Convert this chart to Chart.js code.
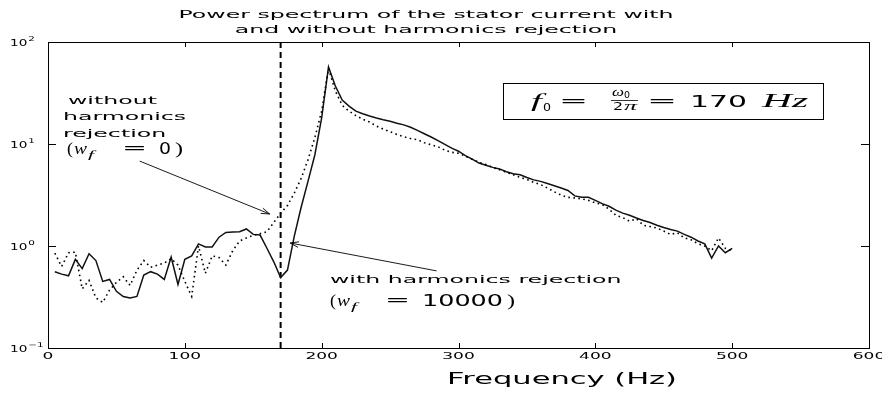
<!DOCTYPE html>
<html>
<head>
<meta charset="utf-8">
<script src="https://cdn.jsdelivr.net/npm/chart.js@4.4.1/dist/chart.umd.min.js"></script>
<style>
  html, body { margin: 0; padding: 0; background: #fff; }
</style>
</head>
<body>
<canvas id="spectrum" width="882" height="394"></canvas>
<script>
// stator current power spectrum, with and without harmonics rejection

const freq = [
  5, 10, 15, 20, 25, 30, 35, 40, 45, 50, 55, 60, 65, 70, 75, 80, 85, 90, 95, 100,
  105, 110, 115, 120, 125, 130, 135, 140, 145, 150, 155, 160, 165, 170, 175, 180, 185, 190, 195, 200,
  205, 210, 215, 220, 225, 230, 235, 240, 245, 250, 255, 260, 265, 270, 275, 280, 285, 290, 295, 300,
  305, 310, 315, 320, 325, 330, 335, 340, 345, 350, 355, 360, 365, 370, 375, 380, 385, 390, 395, 400,
  405, 410, 415, 420, 425, 430, 435, 440, 445, 450, 455, 460, 465, 470, 475, 480, 485, 490, 495, 500
];

// w_f = 10000
const withRejection = [
  0.56, 0.53, 0.51, 0.74, 0.60, 0.84, 0.72, 0.45, 0.47, 0.36, 0.32, 0.31, 0.32, 0.52, 0.56, 0.53, 0.47, 0.78, 0.42, 0.74,
  0.80, 1.05, 0.98, 0.98, 1.22, 1.36, 1.37, 1.38, 1.47, 1.30, 1.28, 0.95, 0.70, 0.49, 0.58, 1.25, 2.4, 4.3, 7.8, 18,
  57, 37, 27, 23.5, 21, 19.8, 18.8, 18, 17.3, 16.7, 16.0, 15.4, 14.6, 13.6, 12.6, 11.7, 10.8, 9.9, 9.1, 8.5,
  7.7, 7.1, 6.5, 6.2, 5.9, 5.7, 5.35, 5.1, 5.0, 4.7, 4.45, 4.3, 4.1, 3.9, 3.7, 3.5, 3.1, 3.0, 3.0, 2.8,
  2.6, 2.45, 2.25, 2.1, 2.0, 1.88, 1.78, 1.7, 1.6, 1.52, 1.45, 1.4, 1.3, 1.22, 1.12, 1.05, 0.76, 1.0, 0.86, 0.95
];

// w_f = 0
const withoutRejection = [
  0.85, 0.63, 0.86, 0.87, 0.38, 0.46, 0.31, 0.28, 0.37, 0.44, 0.50, 0.41, 0.58, 0.72, 0.62, 0.65, 0.68, 0.75, 0.65, 0.45,
  0.32, 1.0, 0.54, 0.80, 0.77, 0.65, 0.90, 1.12, 1.20, 1.27, 1.32, 1.38, 1.7, 2.1, 2.5, 3.3, 4.6, 7.0, 11.5, 21,
  55, 33, 24, 21, 19, 17.5, 16.4, 15, 14, 13.2, 12.4, 11.8, 11.3, 11, 10.3, 9.8, 9.4, 8.7, 8.3, 8.1,
  7.6, 7.1, 6.6, 6.3, 5.9, 5.6, 5.3, 5.0, 4.7, 4.5, 4.2, 4.0, 3.7, 3.4, 3.15, 3.0, 2.95, 2.9, 2.8, 2.65,
  2.55, 2.3, 2.0, 1.9, 1.75, 1.85, 1.6, 1.55, 1.5, 1.4, 1.3, 1.35, 1.2, 1.15, 1.05, 1.0, 0.9, 1.2, 0.95, 0.9
];

const f0 = 170;                      // omega0 / 2pi, Hz
const xTicks = [0, 100, 200, 300, 400, 500, 600];
const yTicks = [0.1, 1, 10, 100];
const yTickExp = ['\u22121', '0', '1', '2'];

const SANS = '"DejaVu Sans", sans-serif';
const SERIF = '"Liberation Serif", "DejaVu Serif", serif';
const WIDE = 2.15;                   // horizontal stretch of the lettering

// draws text stretched horizontally by sx; returns drawn width
function wideText(ctx, text, x, y, font, sx, align) {
  ctx.save();
  ctx.font = font;
  const w = ctx.measureText(text).width * sx;
  let x0 = x;
  if (align === 'center') x0 = x - w / 2;
  else if (align === 'right') x0 = x - w;
  ctx.translate(x0, y);
  ctx.scale(sx, 1);
  ctx.textAlign = 'left';
  ctx.textBaseline = 'alphabetic';
  ctx.fillStyle = '#000';
  ctx.fillText(text, 0, 0);
  ctx.restore();
  return w;
}

// text fitted into [x0, x1]
function boxText(ctx, text, x0, x1, y, font) {
  ctx.save();
  ctx.font = font;
  const sx = (x1 - x0) / ctx.measureText(text).width;
  ctx.restore();
  wideText(ctx, text, x0, y, font, sx, 'left');
}

function arrow(ctx, x0, y0, x1, y1) {
  const a = Math.atan2(y1 - y0, x1 - x0);
  const len = 9, spread = 0.32;
  ctx.beginPath();
  ctx.moveTo(x0, y0);
  ctx.lineTo(x1, y1);
  ctx.moveTo(x1 - len * Math.cos(a - spread), y1 - len * Math.sin(a - spread));
  ctx.lineTo(x1, y1);
  ctx.lineTo(x1 - len * Math.cos(a + spread), y1 - len * Math.sin(a + spread));
  ctx.stroke();
}

// (w_f = value) in math style
function weightLabel(ctx, x, y, value, eqX, numX0, numX1) {
  const big = '17px ' + SERIF;
  boxText(ctx, '(', x, x + 6, y, big);
  boxText(ctx, 'w', x + 7, x + 20, y, 'italic ' + big);
  boxText(ctx, 'f', x + 21, x + 27, y + 4, 'italic 11px ' + SERIF);
  boxText(ctx, '=', eqX, eqX + 25, y - 1, '16px ' + SANS);
  boxText(ctx, value, numX0, numX1, y, '15px ' + SANS);
  boxText(ctx, ')', numX1 + 4, numX1 + 12, y, big);
}

const matlabAxes = {
  id: 'matlabAxes',
  afterDraw(chart) {
    const { ctx, chartArea: area, scales: { x, y } } = chart;
    ctx.save();
    ctx.strokeStyle = '#000';
    ctx.fillStyle = '#000';
    ctx.lineWidth = 1;

    // axes box with inward ticks
    ctx.strokeRect(area.left + 0.5, area.top + 0.5, area.right - area.left, area.bottom - area.top);
    ctx.beginPath();
    xTicks.forEach(v => {
      const px = Math.round(x.getPixelForValue(v)) + 0.5;
      ctx.moveTo(px, area.bottom); ctx.lineTo(px, area.bottom - 5);
      ctx.moveTo(px, area.top); ctx.lineTo(px, area.top + 5);
    });
    yTicks.forEach(v => {
      const py = Math.round(y.getPixelForValue(v)) + 0.5;
      ctx.moveTo(area.left, py); ctx.lineTo(area.left + 8, py);
      ctx.moveTo(area.right, py); ctx.lineTo(area.right - 8, py);
    });
    ctx.stroke();

    // tick labels
    xTicks.forEach(v => {
      wideText(ctx, String(v), x.getPixelForValue(v), area.bottom + 11, '8.5px ' + SANS, 2.0, 'center');
    });
    yTicks.forEach((v, i) => {
      const py = y.getPixelForValue(v);
      const w = wideText(ctx, '10', 10, py + 4, '8.5px ' + SANS, 1.6, 'left');
      wideText(ctx, yTickExp[i], 10 + w + 1, py - 1, '6.5px ' + SANS, 1.6, 'left');
    });

    // titles
    const txt = '11px ' + SANS;
    wideText(ctx, 'Power spectrum of the stator current with', 426, 18, txt, WIDE, 'center');
    wideText(ctx, 'and without harmonics rejection', 426, 33, txt, WIDE, 'center');
    boxText(ctx, 'Frequency (Hz)', 447, 677, 384, '15px ' + SANS);

    // annotations
    wideText(ctx, 'without', 68, 104, txt, WIDE, 'left');
    wideText(ctx, 'harmonics', 63, 120, txt, WIDE, 'left');
    wideText(ctx, 'rejection', 63, 137, txt, WIDE, 'left');
    weightLabel(ctx, 67, 154, '0', 122, 159, 171);

    wideText(ctx, 'with harmonics rejection', 330, 283, txt, WIDE, 'left');
    weightLabel(ctx, 330, 306, '10000', 385, 422, 503);

    ctx.lineWidth = 0.9;
    arrow(ctx, x.getPixelForValue(67), y.getPixelForValue(6.8),
               x.getPixelForValue(162), y.getPixelForValue(2.06));
    arrow(ctx, x.getPixelForValue(284), y.getPixelForValue(0.57),
               x.getPixelForValue(177), y.getPixelForValue(1.07));

    // f0 box
    ctx.lineWidth = 1;
    ctx.strokeRect(503.5, 83.5, 320, 36);
    const base = 107;
    boxText(ctx, 'f', 531, 542, base, 'italic 18px ' + SERIF);
    boxText(ctx, '0', 543, 551, base + 4, '10px ' + SANS);
    boxText(ctx, '=', 559, 588, base - 1, '16px ' + SANS);
    boxText(ctx, '\u03c9', 612, 624, 96, 'italic 13px ' + SERIF);
    boxText(ctx, '0', 624, 630, 98, '8px ' + SANS);
    ctx.lineWidth = 0.8;
    ctx.beginPath(); ctx.moveTo(611, 100.5); ctx.lineTo(638, 100.5); ctx.stroke();
    boxText(ctx, '2', 613, 623, 110, '10px ' + SANS);
    boxText(ctx, '\u03c0', 624, 637, 110, 'italic 12px ' + SERIF);
    boxText(ctx, '=', 647, 677, base - 1, '16px ' + SANS);
    boxText(ctx, String(f0), 690, 747, base, '15px ' + SANS);
    boxText(ctx, 'Hz', 762, 808, base, 'italic 18px ' + SERIF);

    ctx.restore();
  }
};

new Chart(document.getElementById('spectrum'), {
  type: 'line',
  data: {
    datasets: [
      {
        label: 'without harmonics rejection',
        data: freq.map((f, i) => ({ x: f, y: withoutRejection[i] })),
        borderColor: '#000',
        borderWidth: 1.6,
        borderDash: [1.6, 3.4],
        pointRadius: 0,
        tension: 0
      },
      {
        label: 'with harmonics rejection',
        data: freq.map((f, i) => ({ x: f, y: withRejection[i] })),
        borderColor: '#111',
        borderWidth: 1.5,
        pointRadius: 0,
        tension: 0
      },
      {
        label: 'f0',
        data: [{ x: f0, y: yTicks[0] }, { x: f0, y: yTicks[yTicks.length - 1] }],
        borderColor: '#000',
        borderWidth: 2,
        borderDash: [6, 4],
        pointRadius: 0
      }
    ]
  },
  options: {
    responsive: false,
    animation: false,
    events: [],
    layout: { padding: { top: 42, right: 13, bottom: 0, left: 0 } },
    plugins: { legend: { display: false }, tooltip: { enabled: false } },
    scales: {
      x: {
        type: 'linear',
        min: xTicks[0],
        max: xTicks[xTicks.length - 1],
        grid: { display: false },
        border: { display: false },
        ticks: { display: false, stepSize: 100 },
        afterFit: s => { s.height = 46; }
      },
      y: {
        type: 'logarithmic',
        min: yTicks[0],
        max: yTicks[yTicks.length - 1],
        grid: { display: false },
        border: { display: false },
        ticks: { display: false },
        afterBuildTicks: s => { s.ticks = yTicks.map(v => ({ value: v })); },
        afterFit: s => { s.width = 48; }
      }
    }
  },
  plugins: [matlabAxes]
});
</script>
</body>
</html>
